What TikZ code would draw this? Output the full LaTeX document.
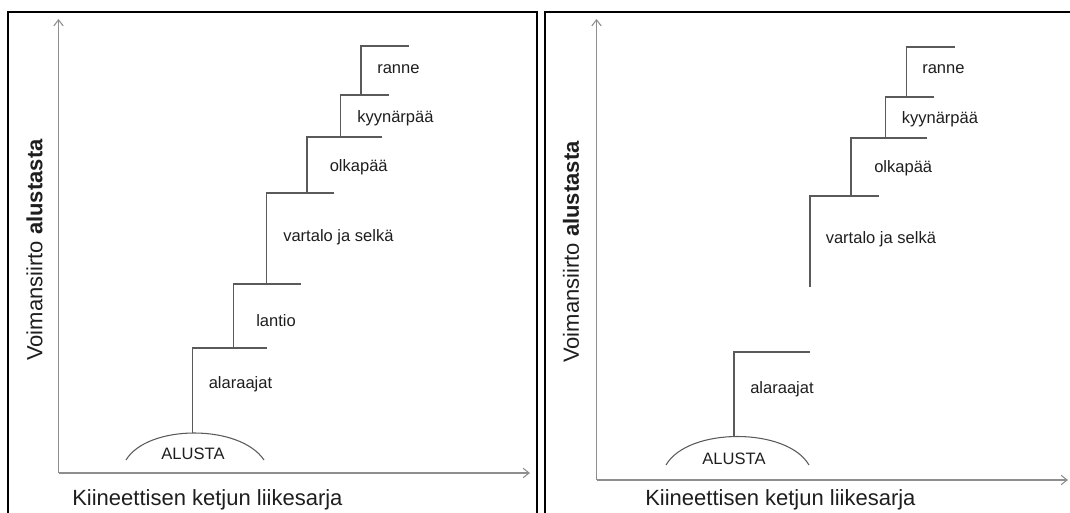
\documentclass[tikz,border=0pt]{standalone}
\usepackage{fontspec}
\setmainfont{Liberation Sans}
\usetikzlibrary{arrows.meta}
\definecolor{akselivari}{HTML}{8E8E8E}
\definecolor{porrasvari}{HTML}{5A5A5A}
\definecolor{tekstivari}{HTML}{1E1E1E}

\begin{document}
\begin{tikzpicture}[x=0.75pt,y=-0.75pt,
  kehys/.style={line width=1.6pt,black},
  akseli/.style={line width=0.8pt,akselivari,-{Straight Barb[length=4.5pt,width=7pt]}},
  porras/.style={line width=0.8pt,porrasvari},
  osa/.style={anchor=west,inner sep=0pt,text=tekstivari,font=\fontsize{12.4}{14}\selectfont},
  akselinimi/.style={inner sep=0pt,text=tekstivari,font=\fontsize{16.5}{19}\selectfont}]
  \useasboundingbox (0,0) rectangle (1070,513); % 画像全体の大きさ
  % 左側の図
  \draw[kehys] (8,513) -- (8,12) -- (537,12) -- (537,513); % 左の枠
  \draw[akseli] (58.5,473) -- (58.5,19); % 縦軸
  \draw[akseli] (58.5,473) -- (530,473); % 横軸
  \draw[porras] (126,460) .. controls (148,424) and (240,424) .. (264,460); % 土台の弧
  \draw[porras] (192.5,433) |- (267,348); % alaraajat の段
  \draw[porras] (233.5,348) |- (301,284); % lantio の段
  \draw[porras] (266.5,284) |- (334,193); % vartalo の段
  \draw[porras] (307,193) |- (382,137); % olkapää の段
  \draw[porras] (340.5,137) |- (389,95); % kyynärpää の段
  \draw[porras] (361,95) |- (409,46); % ranne の段
  \node[osa,anchor=center] (alustaA) at (193,454) {ALUSTA};
  \node[osa] (alaraajatA) at (208.5,384) {alaraajat};
  \node[osa] (lantioA) at (256,321) {lantio};
  \node[osa] (vartaloA) at (283,237) {vartalo ja selkä};
  \node[osa] (olkapaaA) at (329.5,167) {olkapää};
  \node[osa] (kyynarpaaA) at (357,118) {kyynärpää};
  \node[osa] (ranneA) at (377,69) {ranne};
  \node[akselinimi,anchor=west] (xnimiA) at (72,500) {Kiineettisen ketjun liikesarja};
  \node[akselinimi,rotate=90] (ynimiA) at (34.5,250) {Voimansiirto \textbf{alustasta}};
  % 右側の図（lantio なし）
  \draw[kehys] (545,513) -- (545,12) -- (1071,12); % 右の枠
  \draw[akseli] (596.5,480) -- (596.5,19); % 縦軸
  \draw[akseli] (596.5,480) -- (1068,480); % 横軸
  \draw[porras] (666,465) .. controls (688,427) and (787,427) .. (809,465); % 土台の弧
  \draw[porras] (734,437) |- (810,352); % alaraajat の段
  \draw[porras] (810,287) |- (879,196); % vartalo の段（下に隙間）
  \draw[porras] (851,196) |- (927,138); % olkapää の段
  \draw[porras] (885.5,138) |- (934,97); % kyynärpää の段
  \draw[porras] (906.5,97) |- (955,47); % ranne の段
  \node[osa,anchor=center] (alustaB) at (734,459) {ALUSTA};
  \node[osa] (alaraajatB) at (750,389) {alaraajat};
  \node[osa] (vartaloB) at (825.5,239) {vartalo ja selkä};
  \node[osa] (olkapaaB) at (874,168) {olkapää};
  \node[osa] (kyynarpaaB) at (901.5,119) {kyynärpää};
  \node[osa] (ranneB) at (922,69) {ranne};
  \node[akselinimi,anchor=west] (xnimiB) at (645,500) {Kiineettisen ketjun liikesarja};
  \node[akselinimi,rotate=90] (ynimiB) at (571,252) {Voimansiirto \textbf{alustasta}};
\end{tikzpicture}
\end{document}
